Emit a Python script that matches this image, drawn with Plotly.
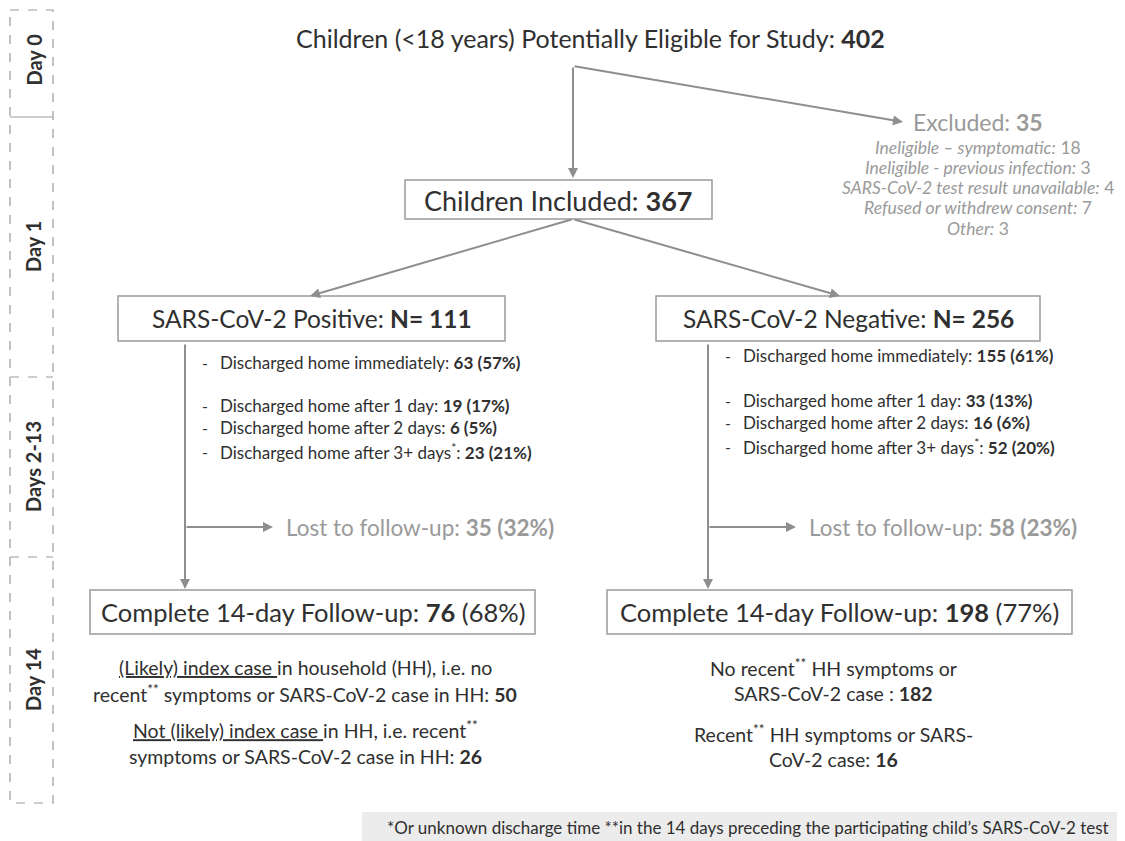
import plotly.graph_objects as go

# ---- data ----
eligible_n = 402
included_n = 367
excluded_n = 35
excluded_reasons = ['Ineligible \u2013 symptomatic', 'Ineligible - previous infection',
                    'SARS-CoV-2 test result unavailable', 'Refused or withdrew consent', 'Other']
excluded_counts = [18, 3, 4, 7, 3]

groups = ['Positive', 'Negative']
group_n = [111, 256]
discharge_labels = ['Discharged home immediately', 'Discharged home after 1 day',
                    'Discharged home after 2 days', 'Discharged home after 3+ days<sup>*</sup>']
discharge_pos = [63, 19, 6, 23]
discharge_pos_pct = [57, 17, 5, 21]
discharge_neg = [155, 33, 16, 52]
discharge_neg_pct = [61, 13, 6, 20]
lost_n = [35, 58]
lost_pct = [32, 23]
complete_n = [76, 198]
complete_pct = [68, 77]
hh_pos = [50, 26]
hh_neg = [182, 16]

day_labels = ['Day 0', 'Day 1', 'Days 2-13', 'Day 14']
day_bounds = [10, 117, 377, 557, 803]

FONT = 'Lato'
DARK = '#303030'
GREY = '#9a9a9a'
LINE = '#8e8e8e'

fig = go.Figure()
fig['layout'].update(margin=dict(l=0, r=0, b=0, t=0))


def text(x, y, s, size=17, color=DARK, xanchor='center', italic=False, angle=0):
    fig.add_annotation(x=x, y=y, text=s, showarrow=False, xanchor=xanchor, yanchor='middle',
                       textangle=angle,
                       font=dict(family=FONT, size=size, color=color,
                                 style='italic' if italic else 'normal'))


def arrow(x0, y0, x1, y1):
    fig.add_annotation(x=x1, y=y1, ax=x0, ay=y0, xref='x', yref='y', axref='x', ayref='y',
                       text='', showarrow=True, arrowhead=2, arrowsize=1,
                       arrowwidth=2, arrowcolor=LINE, standoff=0)


def box(x0, y0, x1, y1):
    fig.add_shape(type='rect', x0=x0, y0=y0, x1=x1, y1=y1,
                  line=dict(color='#9b9b9b', width=1.5), fillcolor='white')


# day column
fig.add_shape(type='rect', x0=10, y0=day_bounds[0], x1=53, y1=day_bounds[-1],
              line=dict(color='#9b9b9b', width=1.2, dash='dash'))
for i, b in enumerate(day_bounds[1:-1]):
    fig.add_shape(type='line', x0=10, x1=53, y0=b, y1=b,
                  line=dict(color='#9b9b9b', width=1.2, dash='solid' if i == 0 else 'dash'))
for i, lab in enumerate(day_labels):
    text(33, (day_bounds[i] + day_bounds[i + 1]) / 2 - (4 if i == 0 else 0),
         '<b>%s</b>' % lab, size=20, angle=-90)

# top
text(590, 38, 'Children (<18 years) Potentially Eligible for Study: <b>%d</b>' % eligible_n, size=25)
arrow(573, 66, 573, 178)
arrow(573, 66, 903, 122)
text(978, 122, 'Excluded: <b>%d</b>' % excluded_n, size=23, color=GREY)
for i, (r, c) in enumerate(zip(excluded_reasons, excluded_counts)):
    text(978, 147 + i * 20.3, '<i>%s:</i> %d' % (r, c), size=17.5, color=GREY)

box(405, 180, 712, 219)
text(558, 200, 'Children Included: <b>%d</b>' % included_n, size=27)
arrow(573, 219, 310, 296)
arrow(573, 219, 840, 296)

# two arms
box_x = [(118, 505), (656, 1040)]
stem_x = [185, 708]
list_y = [[362, 405, 427, 451], [355, 400, 422, 446]]
disc = [(discharge_pos, discharge_pos_pct), (discharge_neg, discharge_neg_pct)]
comp_x = [(90, 535), (607, 1072)]
for k in range(2):
    x0, x1 = box_x[k]
    box(x0, 296, x1, 341)
    text((x0 + x1) / 2, 318, 'SARS-CoV-2 %s: <b>N= %d</b>' % (groups[k], group_n[k]), size=24.5)
    sx = stem_x[k]
    arrow(sx, 343, sx, 589)
    arrow(sx, 527, sx + 88, 527)
    text(sx + 99, 527, 'Lost to follow-up: <b>%d (%d%%)</b>' % (lost_n[k], lost_pct[k]),
         size=22.5, color=GREY, xanchor='left')
    vals, pcts = disc[k]
    for j, lab in enumerate(discharge_labels):
        y = list_y[k][j]
        text(sx + 15, y, '-', size=16, xanchor='left')
        text(sx + 33, y, '%s: <b>%d (%d%%)</b>' % (lab, vals[j], pcts[j]), size=17, xanchor='left')
    cx0, cx1 = comp_x[k]
    box(cx0, 590, cx1, 634)
    text((cx0 + cx1) / 2, 612, 'Complete 14-day Follow-up: <b>%d</b> (%d%%)' % (complete_n[k], complete_pct[k]),
         size=25.5)

# household breakdown
text(305, 667, '<u>(Likely) index case </u>in household (HH), i.e. no', size=19.5)
text(305, 693, 'recent<sup>**</sup> symptoms or SARS-CoV-2 case in HH: <b>%d</b>' % hh_pos[0], size=19.5)
text(305, 729, '<u>Not (likely) index case </u>in HH, i.e. recent<sup>**</sup>', size=19.5)
text(305, 756, 'symptoms or SARS-CoV-2 case in HH: <b>%d</b>' % hh_pos[1], size=19.5)

text(833, 667, 'No recent<sup>**</sup> HH symptoms or', size=19.5)
text(833, 693, 'SARS-CoV-2 case : <b>%d</b>' % hh_neg[0], size=19.5)
text(833, 733, 'Recent<sup>**</sup> HH symptoms or SARS-', size=19.5)
text(833, 759, 'CoV-2 case: <b>%d</b>' % hh_neg[1], size=19.5)

# footnote
fig.add_shape(type='rect', x0=362, y0=812, x1=1125, y1=841, line=dict(width=0), fillcolor='#ececec')
text(748, 827, '*Or unknown discharge time **in the 14 days preceding the participating child\u2019s SARS-CoV-2 test',
     size=17)

# page body has an 8px margin, so the figure is offset and ranges are shifted to keep page pixels == data units
fig.update_layout(width=1117, height=833, plot_bgcolor='white', paper_bgcolor='white',
                  showlegend=False,
                  xaxis=dict(range=[8, 1125], visible=False, fixedrange=True),
                  yaxis=dict(range=[841, 8], visible=False, fixedrange=True))
fig.write_html('out.html')
